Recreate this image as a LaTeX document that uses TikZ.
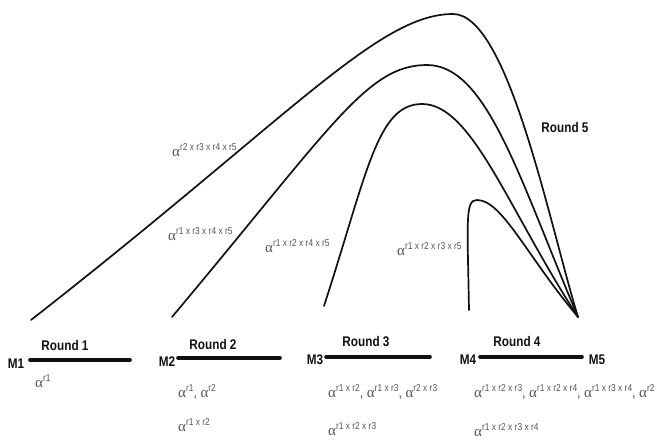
\documentclass[tikz,border=0pt]{standalone}
\usepackage{fontspec}
\setmainfont{Liberation Sans}
\newfontfamily\narrowfont[FakeStretch=0.84]{Liberation Sans}
\newfontfamily\greekfont{Liberation Serif}
\usetikzlibrary{positioning}
\definecolor{ms-text}{HTML}{111111}
\definecolor{ms-label}{HTML}{555555}
% alpha with a product of rounds as exponent
\newcommand{\alp}[1]{{\greekfont\fontsize{15}{17}\selectfont α}\raisebox{0.8ex}{\fontsize{10}{11}\selectfont #1}}

\begin{document}
\begin{tikzpicture}[x=1pt, y=1pt, line cap=round,
    stage/.style={line width=3.6pt, ms-text},
    route/.style={line width=1.7pt, ms-text},
    mach/.style={font=\narrowfont\bfseries\fontsize{14}{16}\selectfont, ms-text, inner sep=0pt},
    rnd/.style={font=\narrowfont\bfseries\fontsize{14}{16}\selectfont, ms-text, inner sep=0pt},
    key/.style={font=\narrowfont\fontsize{15}{17}\selectfont, ms-label, inner sep=0pt, anchor=west}]
    \clip (0,0) rectangle (657,440);
    \useasboundingbox (0,0) rectangle (657,440);

    % --- Machines and the stage lines ---
    \node[mach] (M1) at (16,76) {M1};
    \node[mach] (M2) at (167,78) {M2};
    \node[mach] (M3) at (315,80) {M3};
    \node[mach] (M4) at (468,80) {M4};
    \node[mach] (M5) at (597,80) {M5};
    \coordinate (s1) at (30,80);  \coordinate (e1) at (130,80);
    \coordinate (s2) at (178,82); \coordinate (e2) at (280,82);
    \coordinate (s3) at (326,83); \coordinate (e3) at (430,83);
    \coordinate (s4) at (480,83); \coordinate (e4) at (582,83);
    \draw[stage] (s1) -- (e1);
    \draw[stage] (s2) -- (e2);
    \draw[stage] (s3) -- (e3);
    \draw[stage] (s4) -- (e4);

    % --- Round titles ---
    \node[rnd] (R1) at (65,95) {Round 1};
    \node[rnd] (R2) at (213,96) {Round 2};
    \node[rnd] (R3) at (366,98) {Round 3};
    \node[rnd] (R4) at (517,99) {Round 4};
    \node[rnd] (R5) at (565,313) {Round 5};

    % --- Round 5 routes into M5 ---
    \coordinate (m5pt) at (578,123);
    \coordinate (c1) at (31,120);  \coordinate (t1) at (453,426);
    \coordinate (c2) at (172,123); \coordinate (t2) at (427,375);
    \coordinate (c3) at (324,134); \coordinate (t3) at (422,336);
    \coordinate (c4) at (469,130); \coordinate (t4) at (477,240);
    \draw[route] (c1) .. controls +(38:330) and +(180:75) .. (t1)
                      .. controls +(0:55) and +(107:100) .. (m5pt);
    \draw[route] (c2) .. controls +(50:250) and +(180:60) .. (t2)
                      .. controls +(0:60) and +(113:150) .. (m5pt);
    \draw[route] (c3) .. controls +(72:140) and +(180:45) .. (t3)
                      .. controls +(0:50) and +(123:130) .. (m5pt);
    \draw[route] (c4) .. controls +(91:90) and +(180:12) .. (t4)
                      .. controls +(0:25) and +(130:80) .. (m5pt);

    % --- Route keys ---
    \node[key] (k1) at (172,290) {\alp{r2 x r3 x r4 x r5}};
    \node[key] (k2) at (168,206) {\alp{r1 x r3 x r4 x r5}};
    \node[key] (k3) at (265,194) {\alp{r1 x r2 x r4 x r5}};
    \node[key] (k4) at (397,191) {\alp{r1 x r2 x r3 x r5}};

    % --- Keys held after each round ---
    \node[key] (a1) at (35,59) {\alp{r1}};
    \node[key] (a2) at (178,48) {\alp{r1}, \alp{r2}};
    \node[key] (b2) at (178,15) {\alp{r1 x r2}};
    \node[key] (a3) at (328,48) {\alp{r1 x r2}, \alp{r1 x r3}, \alp{r2 x r3}};
    \node[key] (b3) at (328,11) {\alp{r1 x r2 x r3}};
    \node[key] (a4) at (474,48) {\alp{r1 x r2 x r3}, \alp{r1 x r2 x r4}, \alp{r1 x r3 x r4}, \alp{r2 x r3 x r4}};
    \node[key] (b4) at (474,10) {\alp{r1 x r2 x r3 x r4}};
\end{tikzpicture}
\end{document}
